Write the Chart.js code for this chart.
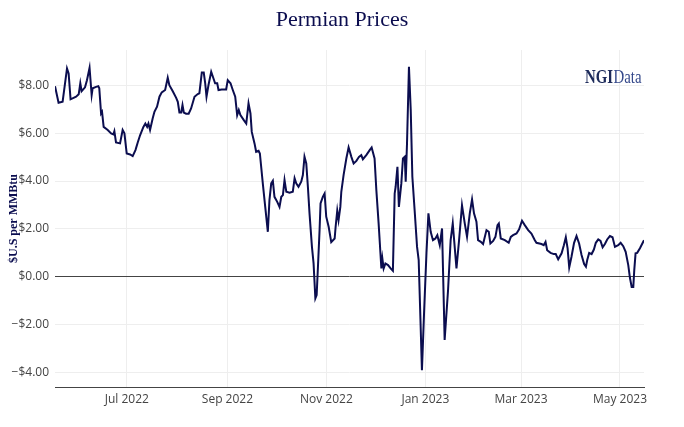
<!DOCTYPE html>
<html>
<head>
<meta charset="utf-8">
<script src="https://cdn.jsdelivr.net/npm/chart.js@4.4.1/dist/chart.umd.min.js"></script>
<style>
  html, body { margin: 0; padding: 0; background: #ffffff; }
  canvas { display: block; }
</style>
</head>
<body>
<canvas id="c" width="684" height="427"></canvas>
<script>
// ---- data ----
const startDate = '2022-05-16';            // day 0 of the x values
const titleText = 'Permian Prices';
const yAxisTitle = '$U.S per MMBtu';
const seriesName = 'Permian';

// days since startDate
const days = [
  1.7,3.9,6.4,9.1,10.1,11.3,14.7,16.3,17.3,18.1,20.2,21.4,23.0,24.3,24.9,27.0,28.4,29.0,30.1,30.7,
  31.7,34.2,36.3,37.7,38.3,39.3,41.8,43.4,44.5,45.9,48.0,49.6,51.3,52.7,54.2,56.2,57.4,58.5,
  59.3,60.3,61.9,63.0,64.6,66.1,67.5,69.6,71.2,72.2,74.3,76.4,77.4,78.4,79.5,80.3,81.1,82.5,84.1,
  85.6,87.7,89.7,90.7,92.2,93.4,94.3,95.1,96.3,98.0,99.4,100.4,101.7,102.5,104.5,107.2,108.2,109.9,
  111.3,112.8,
  114.0,115.0,116.0,118.1,119.6,121.0,122.2,123.0,124.7,125.7,127.2,128.0,129.8,131.3,132.9,133.9,
  135.0,136.0,137.0,138.7,140.1,141.2,142.2,143.2,144.3,146.3,148.3,149.4,150.4,151.8,153.5,154.5,
  155.5,156.6,157.6,158.6,160.1,161.1,162.2,163.0,163.8,164.8,165.4,166.8,167.9,168.9,170.4,172.0,
  174.1,174.7,175.7,176.5,177.6,178.2,179.6,181.3,182.7,184.4,185.8,187.5,189.1,190.5,191.5,193.6,
  195.7,196.9,198.7,199.8,201.2,202.9,203.5,204.3,205.4,207.0,208.6,210.0,211.1,211.7,212.8,213.7,
  215.2,216.2,217.3,217.9,218.7,219.9,221.0,222.0,223.4,224.9,225.9,227.0,227.9,229.2,230.7,231.9,
  233.3,234.7,236.2,237.4,238.9,240.3,241.9,244.0,245.6,246.9,249.2,250.8,252.6,254.3,255.7,257.4,
  258.8,260.0,261.5,262.5,264.2,265.6,267.7,269.1,270.1,271.8,273.2,274.5,275.3,276.5,279.0,281.4,
  282.7,284.1,286.2,287.8,289.6,291.3,293.4,295.4,297.5,
  298.5,301.6,303.0,304.1,305.1,307.2,309.2,310.4,311.9,314.0,315.4,316.6,317.7,318.7,320.1,321.7,
  323.2,324.8,326.3,327.9,329.0,329.8,331.0,332.5,333.9,335.1,336.6,338.0,339.3,340.7,342.1,343.8,
  345.4,346.9,348.9,350.4,352.0,353.5,355.1,356.1,357.2,358.2,358.8,359.6,360.6,362.3,364.8
];

// $ per MMBtu
const prices = [
  7.96,7.27,7.31,8.70,8.49,7.41,7.52,7.62,8.08,7.75,7.91,8.21,8.73,7.59,7.87,7.93,7.96,7.87,6.82,6.89,
  6.26,6.13,5.99,5.95,6.08,5.61,5.57,6.13,5.99,5.15,5.11,5.04,5.29,5.61,5.92,6.26,6.40,6.26,
  6.40,6.13,6.61,6.89,7.10,7.52,7.70,7.80,8.31,8.00,7.75,7.47,7.31,6.86,6.86,7.17,6.86,6.81,6.81,
  7.03,7.52,7.63,7.66,8.53,8.53,8.08,7.52,8.00,8.56,8.28,8.08,8.08,7.80,7.82,7.82,8.21,8.08,
  7.80,7.52,
  6.75,6.96,6.75,6.54,6.40,7.24,6.82,6.05,5.57,5.22,5.26,5.15,3.90,2.92,1.88,3.20,
  3.90,4.01,3.34,3.13,2.92,3.34,3.41,4.04,3.55,3.51,3.55,4.11,3.90,3.76,3.97,4.25,
  5.01,4.73,3.76,2.65,1.25,0.56,-0.90,-0.76,0.42,1.95,3.06,3.34,3.48,2.51,2.09,1.45,
  1.60,2.09,2.76,2.37,2.92,3.55,4.25,4.94,5.40,5.01,4.73,4.84,5.01,5.08,4.91,5.08,
  5.29,5.40,4.94,3.62,2.23,0.35,0.77,0.35,0.56,0.49,0.35,0.25,3.48,3.76,4.59,2.92,
  3.90,4.94,5.01,3.97,5.57,8.77,6.96,4.18,2.78,1.25,0.70,-1.81,-3.90,-1.53,1.00,2.65,
  1.88,1.53,1.60,1.74,1.32,2.02,-2.64,-0.56,1.53,2.23,0.35,1.53,2.99,2.23,1.67,2.65,
  3.23,2.65,2.30,1.53,1.46,1.37,1.95,1.88,1.39,1.50,1.67,2.16,2.23,1.60,1.53,1.42,
  1.67,1.74,1.81,1.98,2.34,2.16,1.95,1.81,1.53,
  1.42,1.37,1.32,1.46,1.11,1.00,0.95,0.95,0.73,0.98,1.32,1.65,1.19,0.39,0.84,1.42,
  1.70,1.39,0.91,0.53,0.42,0.70,1.00,0.95,1.14,1.42,1.56,1.50,1.23,1.37,1.56,1.70,
  1.65,1.25,1.32,1.42,1.28,1.04,0.49,-0.03,-0.42,-0.42,0.28,0.98,1.00,1.19,1.53
];

// x tick marks
const tickDates  = ['2022-07-01','2022-09-01','2022-11-01','2023-01-01','2023-03-01','2023-05-01'];
const tickLabels = ['Jul 2022','Sep 2022','Nov 2022','Jan 2023','Mar 2023','May 2023'];
// y tick marks
const yTicks = [-4, -2, 0, 2, 4, 6, 8];
const yMin = -4.6, yMax = 9.47;

// ---- helpers ----
function dayOf(s) {
  const p = s.split('-').map(Number), q = startDate.split('-').map(Number);
  return (Date.UTC(p[0], p[1]-1, p[2]) - Date.UTC(q[0], q[1]-1, q[2])) / 86400000;
}
const tickDays = tickDates.map(dayOf);
function fmtMoney(v) {
  const s = '$' + Math.abs(v).toFixed(2);
  return v < 0 ? '\u2212' + s : s;
}

const points = days.map((d, i) => ({ x: d, y: prices[i] }));

const NAVY = '#0b0d4f';
const TICK_FONT = { family: '"Open Sans", "DejaVu Sans", sans-serif', size: 12 };

const decorPlugin = {
  id: 'decor',
  afterDraw(chart) {
    const ctx = chart.ctx;
    const ca = chart.chartArea;
    ctx.save();
    // main title
    ctx.fillStyle = NAVY;
    ctx.font = '22px "Liberation Serif", "Times New Roman", serif';
    ctx.textAlign = 'center';
    ctx.textBaseline = 'alphabetic';
    ctx.fillText(titleText, 342, 26);

    // y axis title
    ctx.save();
    ctx.translate(14, (ca.top + ca.bottom) / 2);
    ctx.rotate(-Math.PI / 2);
    ctx.font = 'bold 12px "Liberation Serif", "Times New Roman", serif';
    ctx.fillStyle = NAVY;
    ctx.textAlign = 'center';
    ctx.textBaseline = 'middle';
    ctx.fillText(yAxisTitle, 0, 0);
    ctx.restore();

    // NGI Data logo
    ctx.textAlign = 'left';
    ctx.textBaseline = 'alphabetic';
    ctx.font = 'bold 19px "Liberation Serif", "Times New Roman", serif';
    const w1 = ctx.measureText('NGI').width;
    ctx.save();
    ctx.translate(585, 83);
    ctx.scale(28 / w1, 1);
    ctx.fillStyle = '#1c2a5a';
    ctx.fillText('NGI', 0, 0);
    ctx.restore();
    ctx.font = '19px "Liberation Serif", "Times New Roman", serif';
    const w2 = ctx.measureText('Data').width;
    ctx.save();
    ctx.translate(613.5, 83);
    ctx.scale(28 / w2, 1);
    ctx.fillStyle = '#34488a';
    ctx.fillText('Data', 0, 0);
    ctx.restore();
    ctx.restore();
  }
};

new Chart(document.getElementById('c'), {
  type: 'line',
  data: {
    datasets: [{
      label: seriesName,
      data: points,
      borderColor: NAVY,
      backgroundColor: NAVY,
      borderWidth: 2,
      pointRadius: 0,
      tension: 0,
      fill: false
    }]
  },
  options: {
    responsive: false,
    devicePixelRatio: 1,
    animation: false,
    layout: { padding: { left: 0, right: 40, top: 50, bottom: 0 } },
    plugins: {
      legend: { display: false },
      title: { display: false },
      tooltip: { enabled: false }
    },
    scales: {
      x: {
        type: 'linear',
        min: days[0],
        max: days[days.length - 1],
        afterBuildTicks(scale) { scale.ticks = tickDays.map(v => ({ value: v })); },
        afterFit(scale) { scale.height = 40; },
        ticks: {
          autoSkip: false,
          maxRotation: 0,
          padding: 5,
          color: '#444',
          font: TICK_FONT,
          callback(value, index) { return tickLabels[index]; }
        },
        grid: { color: '#eeeeee', lineWidth: 1, drawTicks: false },
        border: { display: true, color: '#444444', width: 1 }
      },
      y: {
        type: 'linear',
        min: yMin,
        max: yMax,
        afterBuildTicks(scale) { scale.ticks = yTicks.map(v => ({ value: v })); },
        afterFit(scale) { scale.width = 55; },
        ticks: {
          padding: 6,
          color: '#444',
          font: TICK_FONT,
          callback(value) { return fmtMoney(value); }
        },
        grid: {
          drawTicks: false,
          lineWidth: 1,
          color(ctx) { return ctx.tick && ctx.tick.value === 0 ? '#444444' : '#eeeeee'; }
        },
        border: { display: false }
      }
    }
  },
  plugins: [decorPlugin]
});
</script>
</body>
</html>
